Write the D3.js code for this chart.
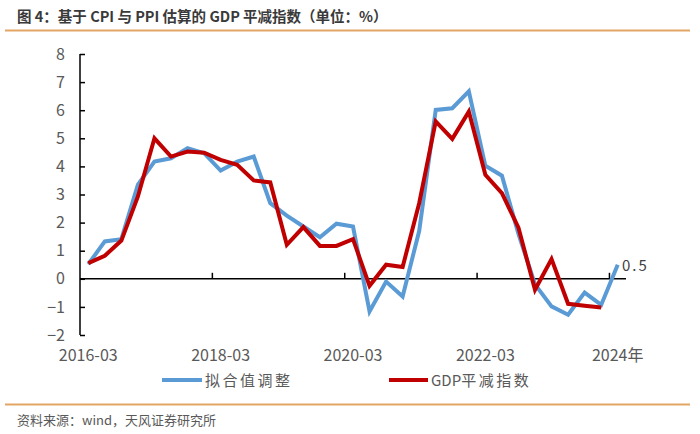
<!DOCTYPE html>
<html><head><meta charset="utf-8">
<script src="https://cdn.jsdelivr.net/npm/d3@7"></script>
<style>
body{margin:0;background:#fff;}
svg{display:block;font-family:"Noto Sans CJK SC","Noto Sans",sans-serif;}
</style></head>
<body><div id="chart"></div>
<script>
const categories = ["2016-03","2016-06","2016-09","2016-12","2017-03","2017-06","2017-09","2017-12",
"2018-03","2018-06","2018-09","2018-12","2019-03","2019-06","2019-09","2019-12",
"2020-03","2020-06","2020-09","2020-12","2021-03","2021-06","2021-09","2021-12",
"2022-03","2022-06","2022-09","2022-12","2023-03","2023-06","2023-09","2023-12","2024年"];
const fitted = [0.52,1.33,1.41,3.35,4.17,4.29,4.65,4.47,3.85,4.17,4.35,2.69,2.25,1.86,1.48,1.96,
1.86,-1.16,-0.1,-0.63,1.7,6.01,6.07,6.67,4.02,3.67,1.6,-0.2,-0.98,-1.28,-0.49,-0.93,0.5];
const deflator = [0.56,0.82,1.36,2.93,5.0,4.35,4.53,4.49,4.23,4.06,3.5,3.43,1.21,1.84,1.17,1.17,
1.41,-0.25,0.5,0.42,2.69,5.6,4.98,5.95,3.7,3.05,1.82,-0.39,0.7,-0.89,-0.96,-1.02,null];
const yTicks = [-2,-1,0,1,2,3,4,5,6,7,8];
const xLabelIdx = [0,8,16,24,32];
const seriesNames = ["拟合值调整","GDP平减指数"];
const colors = ["#5B9BD5","#C00000"];

const W=700,H=434;
const svg=d3.select("#chart").append("svg").attr("width",W).attr("height",H);

// header
svg.append("text").attr("x",17).attr("y",22).attr("font-size",14.5).attr("font-weight","bold")
  .attr("fill","#3a3a3a").text("图 4：基于 CPI 与 PPI 估算的 GDP 平减指数（单位：%）");
svg.append("line").attr("x1",5).attr("x2",690).attr("y1",30.5).attr("y2",30.5)
  .attr("stroke","#E3A565").attr("stroke-width",2);
svg.append("line").attr("x1",5).attr("x2",690).attr("y1",404.5).attr("y2",404.5)
  .attr("stroke","#E3A565").attr("stroke-width",2);
svg.append("text").attr("x",17).attr("y",425).attr("font-size",13)
  .attr("fill","#595959").text("资料来源：wind，天风证券研究所");

const x=d3.scaleBand().domain(categories).range([80,626]);
const y=d3.scaleLinear().domain([-2,8]).range([335,54]);

// y axis
const yAxis=svg.append("g").attr("transform","translate(80,0)")
  .call(d3.axisRight(y).tickValues(yTicks).tickSize(5).tickFormat(""));
yAxis.select(".domain").attr("d",`M0,${y(-2)}V${y(8)}`).attr("stroke","#000").attr("stroke-width",1.5);
yAxis.selectAll(".tick line").attr("stroke","#000").attr("stroke-width",1.5);
svg.append("g").selectAll("text").data(yTicks).join("text")
  .attr("x",65).attr("y",d=>y(d)).attr("dy","0.35em").attr("text-anchor","end")
  .attr("font-size",16).attr("fill","#595959").text(d=>d<0?"−"+Math.abs(d):d);

// x axis at zero
const step=x.step();
const tickPos=[8,16,24,32].map(i=>80+i*step);
svg.append("line").attr("x1",80).attr("x2",626).attr("y1",y(0)).attr("y2",y(0))
  .attr("stroke","#000").attr("stroke-width",1.5);
svg.append("g").selectAll("line").data(tickPos).join("line")
  .attr("x1",d=>d).attr("x2",d=>d).attr("y1",y(0)).attr("y2",y(0)-6)
  .attr("stroke","#000").attr("stroke-width",1.5);
svg.append("g").selectAll("text").data(xLabelIdx).join("text")
  .attr("x",i=>x(categories[i])+step/2).attr("y",361).attr("text-anchor","middle")
  .attr("font-size",16).attr("fill","#595959").text(i=>categories[i]);

// lines
const line=d3.line().defined(d=>d[1]!=null)
  .x(d=>x(d[0])+step/2).y(d=>y(d[1]));
[fitted,deflator].forEach((s,k)=>{
  svg.append("path").datum(categories.map((c,i)=>[c,s[i]]))
    .attr("d",line).attr("fill","none").attr("stroke",colors[k])
    .attr("stroke-width",4).attr("stroke-linejoin","miter");
});

// last value label
svg.append("text").attr("x",622).attr("y",y(fitted[32])+1).attr("dy","0.35em")
  .attr("font-size",15).attr("fill","#404040").attr("letter-spacing","2px").text(fitted[32].toFixed(1));

// legend
const leg=[{x1:162,x2:202,tx:205},{x1:389,x2:428,tx:431}];
leg.forEach((l,k)=>{
  svg.append("line").attr("x1",l.x1).attr("x2",l.x2).attr("y1",380).attr("y2",380)
    .attr("stroke",colors[k]).attr("stroke-width",4);
  const t=svg.append("text").attr("x",l.tx).attr("y",381).attr("dy","0.35em")
    .attr("font-size",15).attr("fill","#595959");
  const name=seriesNames[k];
  const m=name.match(/^([A-Za-z]*)(.*)$/);
  if(m[1]) t.append("tspan").text(m[1]);
  t.append("tspan").attr("letter-spacing","2.5px").text(m[2]);
});
</script></body></html>
